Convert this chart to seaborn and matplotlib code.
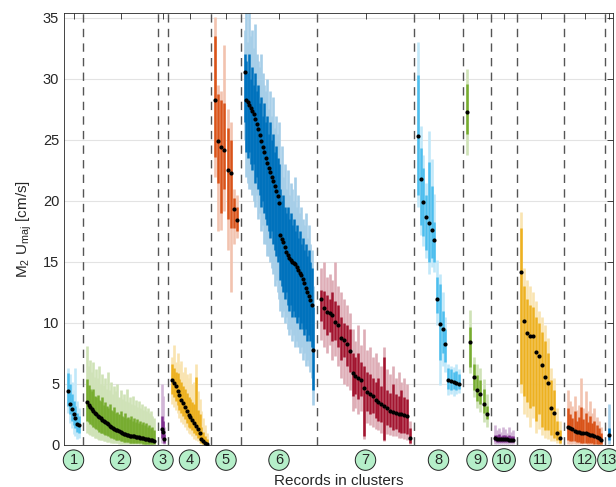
import numpy as np
import pandas as pd
import matplotlib
matplotlib.use("Agg")
import matplotlib.pyplot as plt
import matplotlib.transforms as mtransforms
import seaborn as sns

# ---------------- data ----------------
cluster_names = [str(i) for i in range(1, 14)]
cluster_edges = [0, 19, 94, 104, 147, 177, 253, 350, 399, 427, 453, 500, 541, 549]
cluster_colors = ['#4DBEEE', '#77AC30', '#7E2F8E', '#EDB120', '#D95319', '#0072BD', '#A2142F',
                  '#4DBEEE', '#77AC30', '#7E2F8E', '#EDB120', '#D95319', '#0072BD']

medians = [
    [4.45, 3.33, 2.95, 2.54, 2.19, 1.72, 1.61],
    [3.50, 3.30, 3.10, 2.95, 2.80, 2.62, 2.50, 2.40, 2.30, 2.18, 2.08, 1.98, 1.88, 1.78, 1.68,
     1.58, 1.50, 1.42, 1.34, 1.26, 1.19, 1.12, 1.05, 0.99, 0.93, 0.88, 0.84, 0.80, 0.77, 0.74,
     0.72, 0.70, 0.68, 0.66, 0.63, 0.61, 0.58, 0.56, 0.53, 0.50, 0.47, 0.44, 0.41, 0.38, 0.35],
    [1.35, 1.10, 0.47],
    [5.35, 5.05, 4.80, 4.45, 4.10, 3.70, 3.47, 3.15, 2.81, 2.46, 2.27, 2.05, 1.78, 1.56, 1.34,
     0.96, 0.50, 0.33, 0.19, 0.12],
    [28.3, 24.95, 24.4, 24.2, 22.5, 22.3, 19.3, 18.4],
    [30.6, 28.3, 28.1, 27.9, 27.6, 27.4, 27.1, 26.7, 26.3, 25.9, 25.4, 24.9, 24.4, 24.0, 23.5,
     23.1, 22.7, 22.4, 22.0, 21.6, 21.2, 20.8, 20.4, 19.8, 17.2, 16.9, 16.6, 16.2, 15.8, 15.6,
     15.3, 15.2, 15.0, 14.9, 14.8, 14.6, 14.35, 14.1, 13.9, 13.6, 13.3, 12.9, 12.5, 12.2, 11.9,
     11.5, 7.8],
    [12.0, 11.2, 10.9, 10.85, 10.66, 10.1, 9.84, 8.8, 8.6, 8.25, 7.7, 5.9, 5.66, 5.52, 5.33,
     4.65, 4.32, 4.18, 4.0, 3.69, 3.5, 3.36, 3.22, 3.0, 2.79, 2.68, 2.62, 2.57, 2.51, 2.46,
     2.4, 0.55],
    [25.3, 21.8, 19.9, 18.7, 18.2, 17.6, 16.8, 12.0, 9.9, 9.5, 8.3, 5.3, 5.25, 5.2, 5.1, 5.0],
    [27.3, 8.4, 5.6, 4.5, 4.18, 3.33, 2.54],
    [0.55, 0.52, 0.50, 0.50, 0.48, 0.47, 0.46, 0.45, 0.44, 0.43],
    [14.2, 10.16, 9.15, 8.96, 8.93, 7.65, 7.3, 6.56, 5.55, 5.1, 3.0, 2.65, 0.96, 0.55],
    [1.5, 1.38, 1.28, 1.18, 1.1, 1.05, 1.0, 0.98, 0.95, 0.9, 0.85, 0.8, 0.75, 0.68, 0.6, 0.45],
    [0.82],
]

dark_lo = [
    [3.2, 2.5, 2.0, 1.6, 1.4, 1.1, 1.0],
    [2.0, 1.9, 1.7, 1.6, 1.5, 1.4, 1.3, 1.2, 1.1, 1.0, 0.95, 0.9, 0.85, 0.8, 0.7, 0.65, 0.6,
     0.55, 0.5, 0.45, 0.4, 0.38, 0.35, 0.3, 0.28, 0.26, 0.24, 0.22, 0.2, 0.2, 0.18, 0.18, 0.16,
     0.15, 0.14, 0.14, 0.13, 0.12, 0.12, 0.11, 0.1, 0.1, 0.09, 0.08, 0.08],
    [0.6, 0.5, 0.2],
    [4.2, 3.9, 3.6, 3.3, 2.9, 2.6, 2.4, 2.1, 1.8, 1.5, 1.4, 1.2, 1.0, 0.8, 0.6, 0.4, 0.2, 0.12,
     0.06, 0.03],
    [23.6, 21.5, 19.0, 21.0, 18.5, 17.8, 17.8, 17.5],
    [26.5, 24.0, 23.5, 24.0, 23.0, 22.5, 23.0, 21.5, 22.0, 21.0, 20.5, 19.5, 20.0, 19.0, 18.5,
     18.0, 17.5, 17.0, 17.5, 16.5, 16.0, 15.5, 15.0, 15.5, 13.5, 13.0, 12.5, 12.0, 12.5, 11.5,
     11.0, 11.5, 10.5, 11.0, 10.5, 10.0, 10.5, 9.5, 10.0, 9.5, 9.0, 9.5, 8.5, 9.0, 8.5, 8.0, 4.5],
    [10.2, 9.5, 9.0, 9.3, 8.5, 8.6, 8.0, 7.0, 7.2, 6.5, 6.0, 4.0, 4.2, 3.8, 4.0, 0.7, 2.8, 2.5,
     2.6, 2.2, 2.0, 1.9, 0.4, 1.6, 1.5, 1.2, 1.3, 1.1, 1.0, 1.0, 0.9, 0.2],
    [20.5, 18.0, 17.1, 16.0, 15.0, 15.3, 15.0, 10.8, 7.0, 7.5, 6.8, 4.6, 4.5, 4.6, 4.5, 4.6],
    [25.5, 6.4, 4.5, 3.6, 3.4, 2.6, 2.1],
    [0.3, 0.28, 0.28, 0.27, 0.26, 0.26, 0.25, 0.25, 0.24, 0.24],
    [5.0, 4.0, 3.5, 3.0, 3.2, 2.0, 2.5, 1.5, 1.2, 1.2, 0.8, 0.6, 0.4, 0.2],
    [0.4, 0.35, 0.3, 0.3, 0.25, 0.25, 0.2, 0.2, 0.2, 0.15, 0.15, 0.15, 0.1, 0.1, 0.08, 0.05],
    [0.4],
]

dark_hi = [
    [5.9, 5.0, 4.2, 3.6, 3.2, 2.6, 2.4],
    [5.4, 4.9, 4.6, 4.4, 4.6, 4.0, 3.9, 4.1, 3.7, 3.6, 3.9, 3.3, 3.5, 3.2, 3.0, 3.4, 2.9, 2.8,
     3.1, 2.6, 2.7, 2.5, 2.8, 2.4, 2.3, 2.6, 2.2, 2.3, 2.1, 2.4, 2.0, 2.2, 1.9, 2.1, 1.8, 2.0,
     1.7, 1.9, 1.6, 1.8, 1.5, 1.6, 1.4, 1.5, 1.2],
    [2.4, 2.0, 0.9],
    [6.6, 6.3, 6.0, 5.9, 5.4, 5.2, 4.8, 4.6, 4.3, 3.9, 3.8, 3.5, 3.4, 5.6, 2.9, 2.5, 1.5, 1.1,
     0.7, 0.5],
    [33.5, 28.8, 28.3, 28.0, 26.0, 25.0, 20.2, 19.5],
    [32.0, 31.5, 30.5, 32.0, 30.0, 31.0, 29.5, 30.5, 29.0, 29.5, 28.0, 28.5, 27.0, 28.0, 26.5,
     27.0, 25.5, 26.5, 25.0, 25.5, 24.0, 24.5, 23.5, 23.0, 21.0, 20.0, 20.5, 19.5, 19.0, 19.5,
     18.5, 19.0, 18.0, 18.5, 17.5, 18.0, 17.0, 17.5, 16.5, 17.0, 16.0, 16.5, 15.5, 16.0, 15.0,
     14.5, 11.3],
    [12.7, 12.6, 12.3, 12.0, 12.5, 11.8, 11.5, 10.5, 10.0, 9.8, 9.5, 7.5, 7.2, 7.5, 6.8, 6.5,
     6.0, 5.8, 5.5, 5.2, 5.5, 4.8, 7.2, 4.5, 4.3, 5.0, 4.2, 4.0, 4.5, 3.9, 3.8, 1.4],
    [30.3, 24.3, 22.7, 20.5, 23.2, 21.2, 18.3, 13.8, 13.2, 11.0, 9.5, 6.3, 6.2, 6.0, 6.1, 5.8],
    [29.6, 9.7, 6.6, 5.7, 5.3, 4.6, 3.2],
    [0.85, 0.8, 0.9, 0.75, 0.8, 0.85, 0.75, 0.8, 0.7, 0.75],
    [17.8, 13.0, 12.0, 11.5, 11.3, 10.5, 10.0, 9.3, 8.5, 7.5, 5.3, 4.5, 2.0, 1.2],
    [3.0, 2.5, 2.2, 2.8, 2.0, 2.3, 3.1, 2.1, 2.6, 1.9, 2.4, 1.8, 2.0, 1.6, 1.4, 1.0],
    [1.4],
]

light_lo = [
    [2.6, 1.8, 1.4, 0.9, 0.7, 0.5, 0.6],
    [1.0, 0.9, 0.8, 0.75, 0.7, 0.6, 0.55, 0.5, 0.45, 0.4, 0.38, 0.35, 0.3, 0.28, 0.25, 0.22,
     0.2, 0.18, 0.16, 0.15, 0.14, 0.12, 0.11, 0.1, 0.1, 0.09, 0.08, 0.08, 0.07, 0.07, 0.06,
     0.06, 0.05, 0.05, 0.05, 0.04, 0.04, 0.04, 0.03, 0.03, 0.03, 0.03, 0.02, 0.02, 0.02],
    [0.2, 0.2, 0.05],
    [3.4, 3.1, 2.9, 2.6, 2.2, 1.9, 1.7, 1.5, 1.2, 1.0, 0.9, 0.7, 0.5, 0.4, 0.3, 0.15, 0.05,
     0.03, 0.02, 0.01],
    [22.0, 17.5, 17.6, 19.2, 16.0, 12.5, 16.5, 17.0],
    [25.0, 22.0, 21.5, 21.0, 21.0, 20.5, 20.0, 19.5, 20.5, 18.5, 19.0, 17.5, 18.0, 16.5, 16.5,
     15.5, 15.5, 15.0, 14.5, 14.0, 13.0, 13.5, 12.5, 12.0, 11.0, 10.5, 11.0, 10.0, 10.5, 9.5,
     9.0, 9.5, 8.5, 9.0, 8.0, 8.5, 8.0, 7.5, 8.0, 7.0, 7.5, 6.5, 7.0, 6.5, 6.0, 5.5, 3.3],
    [8.6, 8.0, 7.5, 8.2, 7.0, 7.3, 6.5, 5.5, 5.0, 4.8, 4.5, 2.8, 3.0, 2.5, 2.8, 0.5, 1.8, 1.6,
     1.5, 1.3, 1.2, 1.0, 0.3, 0.9, 0.8, 0.7, 0.7, 0.6, 0.6, 0.5, 0.4, 0.1],
    [19.5, 17.2, 16.3, 15.3, 14.0, 14.6, 14.2, 9.8, 4.9, 6.5, 6.0, 4.1, 4.2, 4.0, 4.2, 4.3],
    [23.8, 5.9, 3.9, 3.0, 2.7, 1.9, 1.5],
    [0.12, 0.1, 0.1, 0.1, 0.1, 0.09, 0.09, 0.08, 0.08, 0.08],
    [4.3, 2.5, 2.3, 1.5, 2.2, 1.0, 1.3, 0.8, 0.6, 0.5, 0.3, 0.3, 0.2, 0.1],
    [0.1, 0.08, 0.07, 0.07, 0.06, 0.06, 0.05, 0.05, 0.05, 0.04, 0.04, 0.04, 0.03, 0.03, 0.02,
     0.02],
    [0.1],
]

light_hi = [
    [6.3, 5.8, 5.2, 4.5, 6.3, 3.6, 3.0],
    [8.1, 6.5, 7.0, 6.0, 6.8, 5.6, 6.2, 5.5, 6.5, 5.0, 5.8, 4.9, 5.5, 4.6, 6.0, 4.5, 5.2, 4.2,
     4.8, 4.4, 5.0, 3.9, 4.5, 3.8, 4.2, 3.6, 4.6, 3.5, 3.9, 3.4, 4.0, 3.3, 3.7, 3.1, 3.6, 3.0,
     3.4, 2.9, 3.2, 2.8, 3.0, 2.6, 2.8, 2.4, 2.2],
    [5.0, 4.0, 1.5],
    [7.2, 8.2, 6.8, 7.5, 6.6, 6.9, 6.0, 6.4, 5.8, 5.5, 5.9, 5.0, 5.2, 6.6, 4.4, 3.8, 2.8, 2.2,
     1.6, 1.0],
    [35.1, 29.5, 29.0, 32.8, 27.5, 26.5, 21.0, 20.5],
    [34.0, 35.5, 33.0, 35.5, 33.5, 34.0, 32.5, 34.5, 32.0, 31.5, 31.0, 32.0, 30.5, 29.5, 29.0,
     30.0, 27.5, 29.0, 27.0, 28.5, 26.0, 27.0, 25.5, 26.5, 23.0, 24.5, 22.0, 23.0, 21.0, 22.5,
     20.5, 21.5, 21.0, 20.0, 22.0, 19.5, 20.5, 19.0, 19.5, 18.5, 18.0, 19.0, 17.0, 18.0, 16.5,
     16.0, 13.0],
    [14.5, 15.0, 13.8, 14.0, 13.5, 15.0, 13.0, 12.5, 12.0, 11.5, 10.8, 9.5, 8.5, 9.8, 8.2, 9.5,
     7.8, 8.0, 7.2, 7.5, 6.8, 6.5, 8.0, 6.2, 5.8, 6.5, 5.5, 6.0, 5.2, 5.5, 5.0, 2.0],
    [33.0, 26.1, 23.8, 21.5, 25.7, 23.4, 20.6, 15.2, 14.0, 12.5, 10.5, 6.6, 6.5, 6.4, 6.6, 6.2],
    [30.8, 11.1, 7.2, 6.6, 6.3, 5.4, 4.2],
    [1.65, 1.2, 1.4, 1.1, 1.5, 1.3, 1.0, 1.45, 1.1, 1.2],
    [19.1, 14.5, 13.5, 13.0, 12.5, 11.8, 11.0, 10.5, 9.8, 8.8, 6.3, 5.5, 3.0, 2.0],
    [4.5, 3.6, 3.2, 4.0, 2.9, 3.3, 5.5, 3.0, 4.4, 2.8, 3.6, 2.6, 3.0, 2.3, 2.0, 1.5],
    [3.4],
]

y_ticks = [0, 5, 10, 15, 20, 25, 30, 35]

# ---------------- build table ----------------
rows = []
pad = 4.0
for ci, name in enumerate(cluster_names):
    left, right = cluster_edges[ci], cluster_edges[ci + 1]
    n = len(medians[ci])
    if n == 1:
        xs = [0.5 * (left + right)]
    else:
        xs = np.linspace(left + pad, right - pad, n)
    for k in range(n):
        rows.append(dict(cluster=name, ci=ci, x=xs[k], med=medians[ci][k],
                         dlo=dark_lo[ci][k], dhi=dark_hi[ci][k],
                         llo=light_lo[ci][k], lhi=light_hi[ci][k]))
df = pd.DataFrame(rows)


def lighten(hexcol, a=0.35):
    rgb = np.array(matplotlib.colors.to_rgb(hexcol))
    return tuple(a * rgb + (1 - a) * np.ones(3))


# ---------------- plot ----------------
sns.set_theme(style="white")
plt.rcParams['font.family'] = ['Liberation Sans', 'DejaVu Sans']
plt.rcParams['mathtext.fontset'] = 'custom'
plt.rcParams['mathtext.rm'] = 'Liberation Sans'

fig = plt.figure(figsize=(6.16, 4.87), dpi=100)
ax = fig.add_axes([64 / 616, 1 - 445 / 487, (613 - 64) / 616, (445 - 13) / 487])

# grid
for yv in y_ticks:
    ax.axhline(yv, color='#e3e3e3', lw=0.8, zorder=0)

light_cols = [lighten(cluster_colors[c]) for c in df.ci]
dark_cols = [cluster_colors[c] for c in df.ci]
ax.vlines(df.x, df.llo, df.lhi, colors=light_cols, lw=1.9, zorder=1)
ax.vlines(df.x, df.dlo, df.dhi, colors=dark_cols, lw=1.8, zorder=2)

# cluster separators
for e in cluster_edges[1:-1]:
    ax.axvline(e, color='#555555', lw=1.0, dashes=(6, 4.5), zorder=3)

# medians
sns.scatterplot(data=df, x='x', y='med', color='black', s=9, linewidth=0, ax=ax, zorder=5,
                legend=False)

centers = [0.5 * (cluster_edges[i] + cluster_edges[i + 1]) for i in range(len(cluster_names))]
ax.set_xlim(cluster_edges[0], cluster_edges[-1])
ax.set_ylim(0, 35.4)
ax.set_yticks(y_ticks)
ax.set_xticks(centers)
ax.set_xticklabels([])
ax.tick_params(axis='both', direction='in', length=4, width=0.6, color='#262626',
               top=True, right=True, labelsize=10.5, labelcolor='#262626')
for s in ax.spines.values():
    s.set_color('#262626')
    s.set_linewidth(0.6)
ax.set_xlabel('')
ax.set_ylabel(r'M$_\mathregular{2}$ U$_\mathregular{maj}$ [cm/s]', fontsize=11, color='#262626',
              labelpad=6)

trans = mtransforms.blended_transform_factory(ax.transData, ax.transAxes)
for c, name in zip(centers, cluster_names):
    ax.text(c, -0.035, name, transform=trans, ha='center', va='center', fontsize=10.5,
            color='#262626',
            bbox=dict(boxstyle='circle,pad=0.22', fc='#b5efc9', ec='#222222', lw=0.7))

fig.text((64 + 613) / 2 / 616, 1 - 481 / 487, 'Records in clusters', ha='center', va='center',
         fontsize=11, color='#262626')

fig.savefig('out.png', dpi=100)
